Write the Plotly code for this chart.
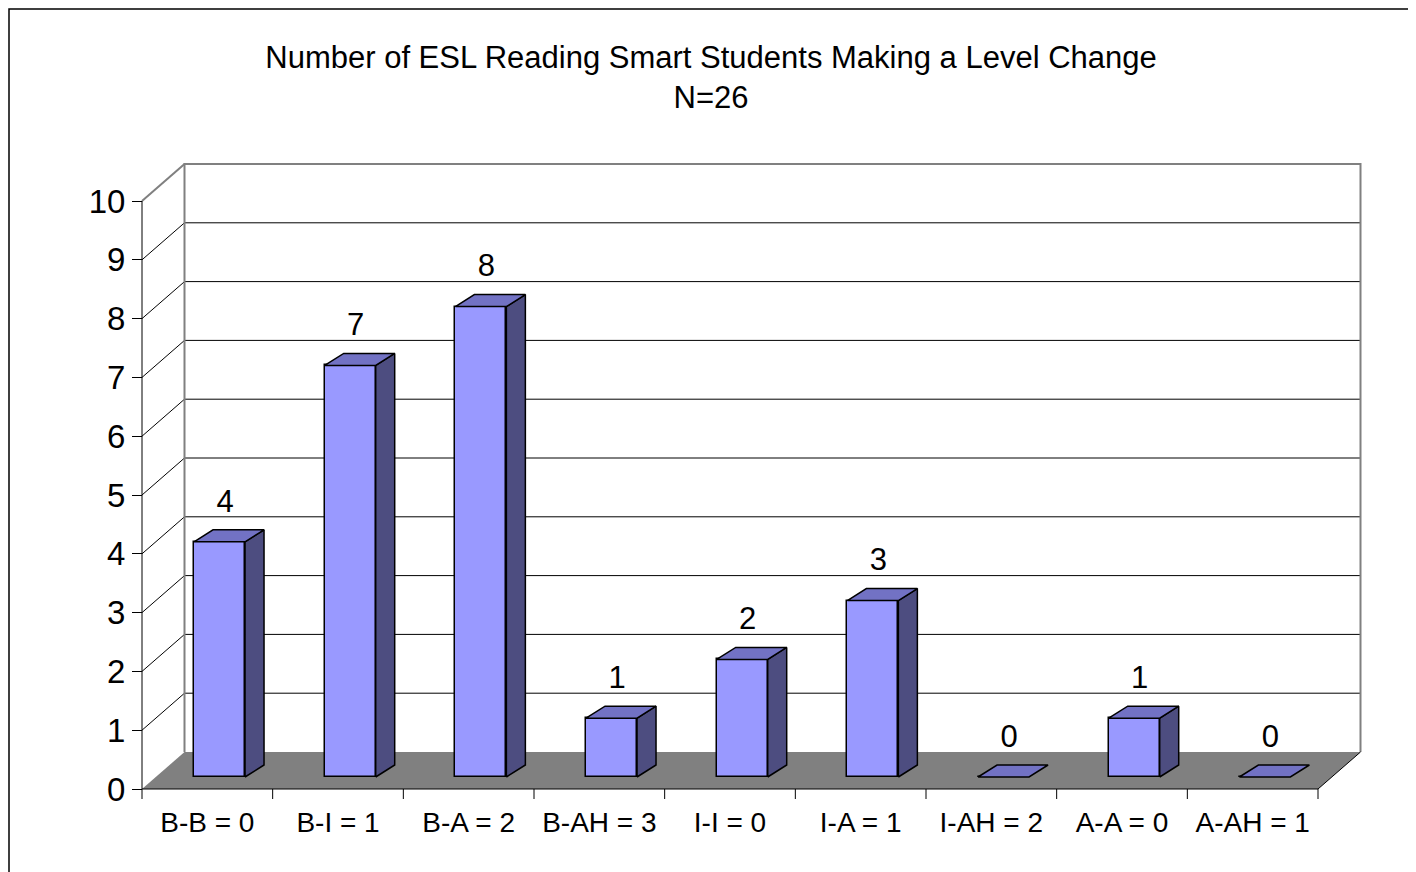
import plotly.graph_objects as go

# ---- data ----
categories = ["B-B = 0", "B-I = 1", "B-A = 2", "B-AH = 3", "I-I = 0",
              "I-A = 1", "I-AH = 2", "A-A = 0", "A-AH = 1"]
counts = [4, 7, 8, 1, 2, 3, 0, 1, 0]
y_ticks = list(range(0, 11))
title_text = "Number of ESL Reading Smart Students Making a Level Change<br>N=26"

# ---- geometry / style (pixels -> data units) ----
OFF = 8                                   # page body margin
W, H = 1416 - OFF, 872 - OFF
L, R, T, B = 92, 1392, 122, 832           # plot area in figure px
X0PX, X9PX = 142 - OFF, 1318 - OFF        # front x-axis extent in px
Y0PX, Y10PX = 789 - OFF, 201 - OFF        # front y=0 and y=10 in px
cw = (X9PX - X0PX) / len(categories)      # px per category
ch = (Y0PX - Y10PX) / 10.0                # px per unit

xr = [-0.5 - (X0PX - L) / cw, -0.5 + (R - X0PX) / cw]
yr = [-(B - Y0PX) / ch, (Y0PX - T) / ch]

fdx, fdy = 42.5 / cw, 37 / ch             # floor / wall depth
bdx_front, bbase = 12.2 / cw, 12 / ch     # bar front offset
bw = 51 / cw                              # bar front width
sdx, sdy = 19 / cw, 12 / ch               # bar depth
lab_dx, lab_dy = 31 / cw, 38 / ch         # label offset

FRONT = "#9999FF"
TOP = "#7272C4"
SIDE = "#4D4D80"
FONT = "Liberation Sans, Arial, sans-serif"

n = len(categories)
x_left = -0.5
x_right = n - 0.5

shapes = []
# floor
shapes.append(dict(type="path", xref="x", yref="y", layer="below",
                   path=f"M {x_left},0 L {x_right},0 L {x_right+fdx},{fdy} L {x_left+fdx},{fdy} Z",
                   fillcolor="#808080", line=dict(width=0)))
# gridlines (left wall diagonal + back wall)
for k in y_ticks[1:-1]:
    shapes.append(dict(type="line", xref="x", yref="y", layer="below",
                       x0=x_left, y0=k, x1=x_left + fdx, y1=k + fdy,
                       line=dict(color="black", width=1)))
    shapes.append(dict(type="line", xref="x", yref="y", layer="below",
                       x0=x_left + fdx, y0=k + fdy, x1=x_right + fdx, y1=k + fdy,
                       line=dict(color="black", width=1)))
top = y_ticks[-1]
# back wall border (gray)
shapes.append(dict(type="path", xref="x", yref="y", layer="below",
                   path=f"M {x_left+fdx},{fdy} L {x_left+fdx},{top+fdy} L {x_right+fdx},{top+fdy} L {x_right+fdx},{fdy}",
                   line=dict(color="#808080", width=2)))
# left wall top edge (gray)
shapes.append(dict(type="line", xref="x", yref="y", layer="below",
                   x0=x_left, y0=top, x1=x_left + fdx, y1=top + fdy,
                   line=dict(color="#808080", width=2)))
# y axis line
shapes.append(dict(type="line", xref="x", yref="y", layer="below",
                   x0=x_left, y0=0, x1=x_left, y1=top,
                   line=dict(color="black", width=1)))
# x axis line + right floor edge
shapes.append(dict(type="line", xref="x", yref="y", layer="below",
                   x0=x_left, y0=0, x1=x_right, y1=0,
                   line=dict(color="black", width=1)))
shapes.append(dict(type="line", xref="x", yref="y", layer="below",
                   x0=x_right, y0=0, x1=x_right + fdx, y1=fdy,
                   line=dict(color="black", width=1)))
# x tick marks at category boundaries
for i in range(n + 1):
    shapes.append(dict(type="line", xref="x", yref="y", layer="below",
                       x0=i - 0.5, y0=0, x1=i - 0.5, y1=-10 / ch,
                       line=dict(color="black", width=1)))

# outer chart border
def px_to_paper_x(px):
    return (px - L) / (R - L)
def px_to_paper_y(py):
    return (B - py) / (B - T)
shapes.append(dict(type="rect", xref="paper", yref="paper", layer="below",
                   x0=px_to_paper_x(1), y0=px_to_paper_y(1),
                   x1=px_to_paper_x(W + 20), y1=px_to_paper_y(H + 20),
                   line=dict(color="black", width=1.5), fillcolor="rgba(0,0,0,0)"))

fig = go.Figure()

# front faces
front_x = [i + bdx_front for i in range(n)]
fig.add_trace(go.Bar(x=front_x, y=counts, base=bbase, width=bw,
                     marker=dict(color=FRONT, line=dict(color="black", width=1.5)),
                     hoverinfo="skip", showlegend=False))

# side and top faces
sx, sy, tx, ty = [], [], [], []
for i, v in enumerate(counts):
    xl = i + bdx_front - bw / 2
    xrr = i + bdx_front + bw / 2
    y0 = bbase
    y1 = bbase + v
    if v > 0:
        sx += [xrr, xrr, xrr + sdx, xrr + sdx, xrr, None]
        sy += [y0, y1, y1 + sdy, y0 + sdy, y0, None]
    tx += [xl, xrr, xrr + sdx, xl + sdx, xl, None]
    ty += [y1, y1, y1 + sdy, y1 + sdy, y1, None]
fig.add_trace(go.Scatter(x=sx, y=sy, mode="lines", fill="toself", fillcolor=SIDE,
                         line=dict(color="black", width=1.5), hoverinfo="skip", showlegend=False))
fig.add_trace(go.Scatter(x=tx, y=ty, mode="lines", fill="toself", fillcolor=TOP,
                         line=dict(color="black", width=1.5), hoverinfo="skip", showlegend=False))

# data labels
fig.add_trace(go.Scatter(x=[i + bdx_front - bw / 2 + lab_dx for i in range(n)],
                         y=[bbase + v + lab_dy for v in counts],
                         mode="text", text=[str(v) for v in counts],
                         textposition="middle center",
                         textfont=dict(family=FONT, size=31, color="black"),
                         hoverinfo="skip", showlegend=False))

fig.update_layout(
    width=W, height=H,
    margin=dict(l=L, r=W - R, t=T, b=H - B),
    paper_bgcolor="white", plot_bgcolor="white",
    shapes=shapes,
    bargap=0,
    title=dict(text=title_text, x=(711 - OFF) / W, xanchor="center", xref="container",
               y=1 - 60 / H, yanchor="top", yref="container",
               font=dict(family=FONT, size=31, color="black")),
    xaxis=dict(range=xr, tickmode="array", tickvals=list(range(n)), ticktext=categories,
               anchor="free", position=px_to_paper_y(Y0PX),
               showgrid=False, zeroline=False, showline=False,
               ticks="outside", ticklen=8, tickcolor="rgba(0,0,0,0)",
               tickfont=dict(family=FONT, size=28, color="black")),
    yaxis=dict(range=yr, tickmode="array", tickvals=y_ticks,
               anchor="free", position=px_to_paper_x(X0PX),
               showgrid=False, zeroline=False, showline=False,
               ticks="outside", ticklen=10, tickwidth=1, tickcolor="black",
               tickfont=dict(family=FONT, size=33, color="black")),
)

fig.write_html("out.html")
